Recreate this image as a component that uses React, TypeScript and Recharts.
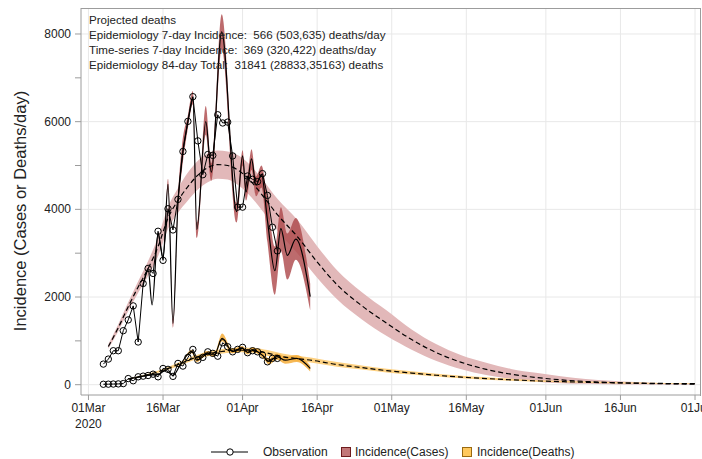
import React from 'react';
import { ComposedChart, Area, Line, XAxis, YAxis, CartesianGrid } from 'recharts';

const FONT = '"Liberation Sans", Arial, sans-serif';
const AXIS = '#9c9c9c';
const TXT = '#222';

// day index on the x axis: 0 = 01Mar2020
const tickDays = [0, 15, 31, 46, 61, 76, 92, 107, 122];
const tickLabels = ['01Mar', '16Mar', '01Apr', '16Apr', '01May', '16May', '01Jun', '16Jun', '01Jul'];
const yTicks = [0, 1000, 2000, 3000, 4000, 5000, 6000, 7000, 8000];
const gridY = [0, 2000, 4000, 6000, 8000];

// observed daily counts
const obsDays = [3, 4, 5, 6, 7, 8, 9, 10, 11, 12, 13, 14, 15, 16, 17, 18, 19, 20, 21, 22, 23, 24, 25, 26, 27, 28, 29, 30, 31, 32, 33, 34, 35, 36, 37, 38];
const caseObs = [470, 584, 775, 775, 1232, 1478, 1798, 974, 2309, 2653, 2538, 3500, 2836, 4014, 3530, 4227, 5320, 6007, 6570, 5562, 4790, 5250, 5230, 6158, 5970, 5990, 5219, 4050, 4050, 4760, 4685, 4632, 4815, 4318, 3592, 3052];
const deathObs = [10, 12, 15, 18, 25, 140, 90, 180, 195, 210, 240, 180, 370, 350, 190, 485, 425, 620, 805, 560, 623, 750, 715, 650, 957, 866, 750, 806, 852, 730, 775, 750, 675, 522, 600, 600];

// epidemiology model, cases: mean and band
const caseModelDays = [4, 6, 8, 10, 12, 14, 16, 18, 20, 22, 24, 26, 28, 30, 32, 35, 38, 42, 46, 50, 55, 60, 65, 70, 75, 80, 85, 90, 95, 100, 105, 110, 115, 122];
const caseModel = [870, 1300, 1780, 2230, 2650, 3150, 3800, 4200, 4520, 4780, 4950, 5020, 5000, 4900, 4720, 4320, 3880, 3380, 2800, 2280, 1800, 1400, 1030, 730, 510, 350, 240, 165, 110, 75, 50, 33, 22, 12];
const caseModelLo = [820, 1220, 1680, 2100, 2480, 2930, 3550, 3920, 4200, 4450, 4620, 4700, 4680, 4560, 4370, 3960, 3520, 3000, 2440, 1950, 1490, 1110, 800, 540, 350, 220, 130, 70, 35, 20, 12, 6, 3, 2];
const caseModelHi = [920, 1380, 1880, 2360, 2820, 3370, 4050, 4480, 4840, 5110, 5280, 5340, 5320, 5240, 5070, 4680, 4240, 3760, 3160, 2610, 2110, 1690, 1260, 920, 670, 500, 360, 270, 190, 132, 90, 61, 41, 22];

// time-series fit, cases
const caseTsDays = [11, 12, 12.8, 14, 15, 16, 17, 18, 18.8, 20, 21, 21.8, 23.6, 24.7, 26.8, 29.8, 31, 31.7, 32.8, 33.7, 34.8, 36, 37.5, 38.7, 40, 41.7, 44.6];
const caseTs = [2250, 2650, 1820, 3450, 2880, 4570, 1400, 4150, 5150, 6000, 6550, 3540, 6000, 4850, 8050, 3950, 5220, 4400, 5150, 4550, 4800, 3750, 2600, 3560, 2950, 3320, 2011];
const caseTsLo = [2250, 2650, 1820, 3450, 2880, 4450, 1300, 4000, 4900, 5850, 6400, 3350, 5700, 4650, 7650, 3700, 5000, 4200, 4900, 4300, 4500, 3250, 2050, 3050, 2400, 2850, 1700];
const caseTsHi = [2250, 2650, 1820, 3450, 2880, 4700, 1500, 4300, 5450, 6150, 6700, 3700, 6360, 5050, 8450, 4150, 5350, 4600, 5370, 4750, 5000, 4250, 3150, 4050, 3450, 3800, 2300];

// epidemiology model, deaths
const deathModelDays = [8, 12, 15, 18, 21, 24, 27, 30, 33, 36, 39, 42, 45, 50, 55, 60, 65, 70, 75, 80, 85, 90, 95, 100, 105, 110, 115, 122];
const deathModel = [130, 230, 330, 460, 600, 700, 760, 790, 785, 720, 640, 595, 555, 460, 390, 320, 265, 215, 172, 140, 112, 88, 70, 55, 45, 36, 29, 23];
const deathModelLo = [120, 210, 300, 420, 550, 650, 710, 740, 730, 660, 580, 540, 500, 410, 345, 280, 230, 185, 145, 115, 90, 70, 55, 42, 33, 26, 20, 15];
const deathModelHi = [140, 250, 360, 500, 650, 750, 815, 845, 840, 790, 710, 660, 615, 515, 440, 365, 305, 250, 205, 170, 138, 110, 90, 72, 60, 48, 39, 32];

// time-series fit, deaths
const deathTsDays = [8, 10, 12, 14, 15.5, 17, 18.5, 20.8, 21.8, 23.8, 25.3, 26.9, 28.9, 30.9, 32, 33, 35.3, 36.3, 37.9, 39.6, 41.9, 44.6];
const deathTs = [130, 170, 220, 230, 330, 210, 460, 760, 560, 720, 680, 1060, 760, 830, 740, 800, 640, 530, 640, 560, 600, 370];
const deathTsLo = [130, 170, 220, 230, 330, 210, 460, 720, 520, 680, 640, 990, 710, 780, 690, 750, 580, 460, 570, 480, 520, 300];
const deathTsHi = [130, 170, 220, 230, 330, 210, 460, 800, 600, 770, 720, 1170, 810, 880, 790, 850, 700, 600, 710, 640, 680, 440];

const annotation = [
  'Projected deaths',
  'Epidemiology 7-day Incidence:  566 (503,635) deaths/day',
  'Time-series 7-day Incidence:  369 (320,422) deaths/day',
  'Epidemiology 84-day Total:  31841 (28833,35163) deaths',
];

const points = (days: number[], vals: number[]) => days.map((d, i) => ({ d, v: vals[i] }));
const bands = (days: number[], lo: number[], hi: number[]) => days.map((d, i) => ({ d, r: [lo[i], hi[i]] }));

const caseObsData = points(obsDays, caseObs);
const deathObsData = points(obsDays, deathObs);
const caseModelData = points(caseModelDays, caseModel);
const caseModelBand = bands(caseModelDays, caseModelLo, caseModelHi);
const caseTsData = points(caseTsDays, caseTs);
const caseTsBand = bands(caseTsDays, caseTsLo, caseTsHi);
const deathModelData = points(deathModelDays, deathModel);
const deathModelBand = bands(deathModelDays, deathModelLo, deathModelHi);
const deathTsData = points(deathTsDays, deathTs);
const deathTsBand = bands(deathTsDays, deathTsLo, deathTsHi);

const XTick = (props: any) => {
  const { x, y, payload } = props;
  const i = tickDays.indexOf(payload.value);
  return (
    <g>
      <text x={x} y={y} dy={10} textAnchor="middle" fontSize={12} fill={TXT} fontFamily={FONT}>
        {tickLabels[i]}
      </text>
      {i === 0 && (
        <text x={x} y={y} dy={26} textAnchor="middle" fontSize={12} fill={TXT} fontFamily={FONT}>
          2020
        </text>
      )}
    </g>
  );
};

// only every other tick gets a label, the rest are minor marks
const YTick = (props: any) => {
  const { x, y, payload } = props;
  if (payload.value % 2000 !== 0) return <g />;
  return (
    <text x={x} y={y} dy={4} textAnchor="end" fontSize={12} fill={TXT} fontFamily={FONT}>
      {payload.value}
    </text>
  );
};

const dot = { r: 3.2, stroke: '#000', strokeWidth: 1, fill: 'none' };

export default function App() {
  return (
    <div style={{ position: 'absolute', left: 0, top: 0, width: 702, height: 459, background: '#fff' }}>
      <ComposedChart width={702} height={459} margin={{ top: 8, right: 2, left: 0, bottom: 0 }}>
        <CartesianGrid stroke="#e8e8e8" horizontalValues={gridY} verticalValues={tickDays} />
        <XAxis
          type="number"
          dataKey="d"
          domain={[-1.5, 123]}
          ticks={tickDays}
          interval={0}
          allowDataOverflow
          height={64}
          tickSize={5}
          axisLine={{ stroke: AXIS }}
          tickLine={{ stroke: AXIS }}
          tick={<XTick />}
        />
        <YAxis
          type="number"
          domain={[-235, 8593]}
          ticks={yTicks}
          interval={0}
          allowDataOverflow
          width={81}
          tickSize={6}
          tickMargin={4}
          axisLine={{ stroke: AXIS }}
          tickLine={{ stroke: AXIS }}
          tick={<YTick />}
        />

        <Area data={caseModelBand} dataKey="r" type="monotone" stroke="none" fill="#e2b8b9" fillOpacity={1} isAnimationActive={false} />
        <Area data={caseTsBand} dataKey="r" type="monotone" stroke="none" fill="#ad4649" fillOpacity={0.8} isAnimationActive={false} />
        <Area data={deathModelBand} dataKey="r" type="monotone" stroke="none" fill="#fdd182" fillOpacity={1} isAnimationActive={false} />
        <Area data={deathTsBand} dataKey="r" type="monotone" stroke="none" fill="#f5ad3a" fillOpacity={0.85} isAnimationActive={false} />

        <Line data={caseModelData} dataKey="v" type="monotone" stroke="#000" strokeWidth={1.2} strokeDasharray="5 3" dot={false} activeDot={false} isAnimationActive={false} />
        <Line data={deathModelData} dataKey="v" type="monotone" stroke="#000" strokeWidth={1.2} strokeDasharray="5 3" dot={false} activeDot={false} isAnimationActive={false} />
        <Line data={caseTsData} dataKey="v" type="monotone" stroke="#000" strokeWidth={1.2} dot={false} activeDot={false} isAnimationActive={false} />
        <Line data={deathTsData} dataKey="v" type="monotone" stroke="#000" strokeWidth={1.2} dot={false} activeDot={false} isAnimationActive={false} />
        <Line data={caseObsData} dataKey="v" type="linear" stroke="#000" strokeWidth={1} dot={dot} activeDot={false} isAnimationActive={false} />
        <Line data={deathObsData} dataKey="v" type="linear" stroke="#000" strokeWidth={1} dot={dot} activeDot={false} isAnimationActive={false} />
      </ComposedChart>

      {/* frame around the plot area */}
      <div style={{ position: 'absolute', left: 80.5, top: 8, width: 619, height: 386.5, borderTop: `1px solid ${AXIS}`, borderRight: `1px solid ${AXIS}`, pointerEvents: 'none' }} />

      <svg width={702} height={459} style={{ position: 'absolute', left: 0, top: 0, pointerEvents: 'none' }}>
        <text x={20} y={211} transform="rotate(-90 20 211)" textAnchor="middle" dominantBaseline="central" fontSize={16.5} fill={TXT} fontFamily={FONT}>
          Incidence (Cases or Deaths/day)
        </text>
        {annotation.map((t, i) => (
          <text key={i} x={89} y={23.5 + i * 15} fontSize={11.6} fill={TXT} fontFamily={FONT} style={{ whiteSpace: 'pre' }}>
            {t}
          </text>
        ))}
        {/* legend */}
        <line x1={211} x2={248} y1={452} y2={452} stroke="#000" strokeWidth={1} />
        <circle cx={230} cy={452} r={3.2} stroke="#000" strokeWidth={1} fill="#fff" />
        <text x={263} y={456} fontSize={12} fill={TXT} fontFamily={FONT}>Observation</text>
        <rect x={341.5} y={447.5} width={9} height={9} fill="#c27778" stroke="#6e1c1e" />
        <text x={355} y={456} fontSize={12} fill={TXT} fontFamily={FONT}>Incidence(Cases)</text>
        <rect x={462.5} y={447.5} width={9} height={9} fill="#ffc95e" stroke="#9a6a10" />
        <text x={477} y={456} fontSize={12} fill={TXT} fontFamily={FONT}>Incidence(Deaths)</text>
      </svg>
    </div>
  );
}
